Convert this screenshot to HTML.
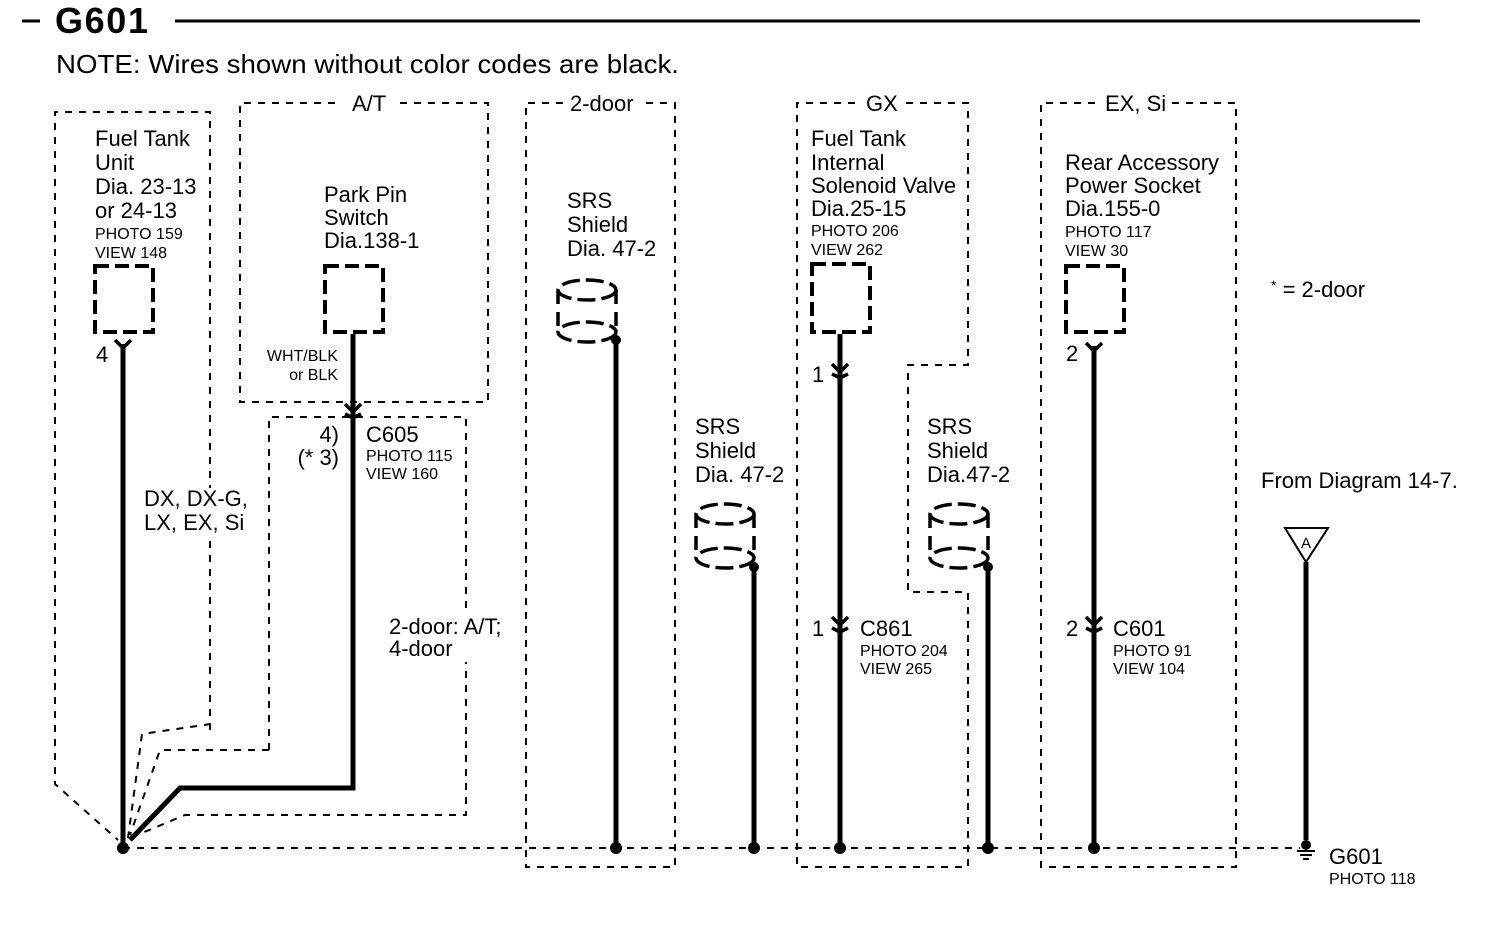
<!DOCTYPE html>
<html><head><meta charset="utf-8"><style>
html,body{margin:0;padding:0;background:#fff;}
svg{display:block;font-family:"Liberation Sans",sans-serif;}
.b{fill:none;stroke:#000;stroke-width:2;stroke-dasharray:7,7;}
.w{fill:none;stroke:#000;stroke-width:5;}
.c{fill:none;stroke:#000;stroke-width:4;stroke-dasharray:14,6;}
.cy{fill:none;stroke:#000;stroke-width:3.5;stroke-dasharray:18,6;}
.t{font-size:22px;}
.s{font-size:16px;}
</style></head><body>
<svg width="1504" height="950" viewBox="0 0 1504 950" xmlns="http://www.w3.org/2000/svg">
<!-- title -->
<line x1="22" y1="21" x2="40" y2="21" stroke="#000" stroke-width="3"/>
<text x="55" y="33" font-size="36" font-weight="bold" textLength="93">G601</text>
<line x1="175" y1="21" x2="1420" y2="21" stroke="#000" stroke-width="3"/>
<text x="56" y="73" font-size="26" textLength="623" lengthAdjust="spacingAndGlyphs">NOTE: Wires shown without color codes are black.</text>

<!-- boxes -->
<polyline class="b" points="210,730 210,112 55,112 55,784 118,840"/>
<polyline class="b" points="211,724 142,734 128,838"/>
<polyline class="b" points="335,103 240,103 240,402 488,402 488,103 400,103"/>
<text x="352" y="111" class="t">A/T</text>
<polyline class="b" points="269,750 269,417 466,417 466,815 185,815 130,838"/>
<polyline class="b" points="269,750 160,750 130,835"/>
<polyline class="b" points="563,103 526,103 526,867 675,867 675,103 645,103"/>
<text x="570" y="111" class="t">2-door</text>
<polyline class="b" points="855,103 797,103 797,867 968,867 968,592 908,592 908,365 968,365 968,103 905,103"/>
<text x="866" y="111" class="t">GX</text>
<polyline class="b" points="1095,103 1041,103 1041,867 1236,867 1236,103 1170,103"/>
<text x="1105" y="111" class="t">EX, Si</text>

<!-- ground bus -->
<line class="b" x1="123" y1="848" x2="1300" y2="848" stroke-dasharray="12,8"/>

<!-- fuel tank -->
<text class="t"><tspan x="95" y="146">Fuel Tank</tspan><tspan x="95" y="170">Unit</tspan><tspan x="95" y="194">Dia. 23-13</tspan><tspan x="95" y="218">or 24-13</tspan></text>
<text class="s"><tspan x="95" y="239">PHOTO 159</tspan><tspan x="95" y="258">VIEW 148</tspan></text>
<rect class="c" x="95" y="266" width="58" height="66"/>
<line class="w" x1="123" y1="344" x2="123" y2="848"/>
<polyline fill="none" stroke="#000" stroke-width="3.5" points="115,340 123,348 131,340"/>
<text x="96" y="362" class="t">4</text>
<rect x="140" y="488" width="110" height="48" fill="#fff"/>
<text class="t"><tspan x="144" y="506">DX, DX-G,</tspan><tspan x="144" y="530">LX, EX, Si</tspan></text>

<!-- park pin -->
<text class="t"><tspan x="324" y="202">Park Pin</tspan><tspan x="324" y="225">Switch</tspan><tspan x="324" y="248">Dia.138-1</tspan></text>
<rect class="c" x="325" y="266" width="58" height="66"/>
<text class="s" text-anchor="end"><tspan x="338" y="361">WHT/BLK</tspan><tspan x="338" y="380">or BLK</tspan></text>
<polyline class="w" points="353,334 353,788 180,788 130,840"/>
<polyline fill="none" stroke="#000" stroke-width="3.5" points="345,404 353,412 361,404"/>
<polyline fill="none" stroke="#000" stroke-width="3.5" points="345,414 353,418 361,414"/>
<text class="t" text-anchor="end"><tspan x="339" y="442">4)</tspan><tspan x="339" y="465">(* 3)</tspan></text>
<text x="366" y="442" class="t">C605</text>
<text class="s"><tspan x="366" y="461">PHOTO 115</tspan><tspan x="366" y="479">VIEW 160</tspan></text>
<rect x="386" y="612" width="120" height="50" fill="#fff"/>
<text class="t"><tspan x="389" y="634">2-door: A/T;</tspan><tspan x="389" y="656">4-door</tspan></text>

<!-- SRS 1 -->
<text class="t"><tspan x="567" y="208">SRS</tspan><tspan x="567" y="232">Shield</tspan><tspan x="567" y="256">Dia. 47-2</tspan></text>
<ellipse class="cy" cx="587" cy="290" rx="29" ry="10"/>
<ellipse class="cy" cx="587" cy="332" rx="29" ry="10"/>
<line x1="558" y1="290" x2="558" y2="332" stroke="#000" stroke-width="3.5" stroke-dasharray="14,8"/>
<line x1="616" y1="290" x2="616" y2="332" stroke="#000" stroke-width="3.5" stroke-dasharray="14,8"/>
<line class="w" x1="616" y1="340" x2="616" y2="848"/>
<circle cx="616" cy="340" r="5"/>

<!-- SRS 2 -->
<text class="t"><tspan x="695" y="434">SRS</tspan><tspan x="695" y="458">Shield</tspan><tspan x="695" y="482">Dia. 47-2</tspan></text>
<ellipse class="cy" cx="725" cy="514" rx="29" ry="10"/>
<ellipse class="cy" cx="725" cy="558" rx="29" ry="10"/>
<line x1="696" y1="514" x2="696" y2="558" stroke="#000" stroke-width="3.5" stroke-dasharray="14,8"/>
<line x1="754" y1="514" x2="754" y2="558" stroke="#000" stroke-width="3.5" stroke-dasharray="14,8"/>
<line class="w" x1="754" y1="567" x2="754" y2="848"/>
<circle cx="754" cy="567" r="5"/>

<!-- GX -->
<text class="t"><tspan x="811" y="146">Fuel Tank</tspan><tspan x="811" y="170">Internal</tspan><tspan x="811" y="193">Solenoid Valve</tspan><tspan x="811" y="216">Dia.25-15</tspan></text>
<text class="s"><tspan x="811" y="236">PHOTO 206</tspan><tspan x="811" y="255">VIEW 262</tspan></text>
<rect class="c" x="812" y="264" width="58" height="68"/>
<line class="w" x1="840" y1="334" x2="840" y2="848"/>
<polyline fill="none" stroke="#000" stroke-width="3.5" points="832,364 840,372 848,364"/>
<polyline fill="none" stroke="#000" stroke-width="3.5" points="832,374 840,378 848,374"/>
<text x="812" y="382" class="t">1</text>
<polyline fill="none" stroke="#000" stroke-width="3.5" points="832,617 840,625 848,617"/>
<polyline fill="none" stroke="#000" stroke-width="3.5" points="832,628 840,632 848,628"/>
<text x="812" y="636" class="t">1</text>
<text x="860" y="636" class="t">C861</text>
<text class="s"><tspan x="860" y="656">PHOTO 204</tspan><tspan x="860" y="674">VIEW 265</tspan></text>

<!-- SRS 3 -->
<text class="t"><tspan x="927" y="434">SRS</tspan><tspan x="927" y="458">Shield</tspan><tspan x="927" y="482">Dia.47-2</tspan></text>
<ellipse class="cy" cx="959" cy="514" rx="29" ry="10"/>
<ellipse class="cy" cx="959" cy="558" rx="29" ry="10"/>
<line x1="930" y1="514" x2="930" y2="558" stroke="#000" stroke-width="3.5" stroke-dasharray="14,8"/>
<line x1="988" y1="514" x2="988" y2="558" stroke="#000" stroke-width="3.5" stroke-dasharray="14,8"/>
<line class="w" x1="988" y1="567" x2="988" y2="848"/>
<circle cx="988" cy="567" r="5"/>

<!-- EX Si -->
<text class="t"><tspan x="1065" y="170">Rear Accessory</tspan><tspan x="1065" y="193">Power Socket</tspan><tspan x="1065" y="216">Dia.155-0</tspan></text>
<text class="s"><tspan x="1065" y="237">PHOTO 117</tspan><tspan x="1065" y="256">VIEW 30</tspan></text>
<rect class="c" x="1066" y="266" width="58" height="66"/>
<line class="w" x1="1094" y1="346" x2="1094" y2="848"/>
<polyline fill="none" stroke="#000" stroke-width="3.5" points="1086,343 1094,351 1102,343"/>
<text x="1066" y="361" class="t">2</text>
<polyline fill="none" stroke="#000" stroke-width="3.5" points="1086,617 1094,625 1102,617"/>
<polyline fill="none" stroke="#000" stroke-width="3.5" points="1086,628 1094,632 1102,628"/>
<text x="1066" y="636" class="t">2</text>
<text x="1113" y="636" class="t">C601</text>
<text class="s"><tspan x="1113" y="656">PHOTO 91</tspan><tspan x="1113" y="674">VIEW 104</tspan></text>

<!-- right -->
<text x="1271" y="297" class="t"><tspan font-size="14" dy="-7">*</tspan><tspan dy="7"> = 2-door</tspan></text>
<text x="1261" y="488" class="t">From Diagram 14-7.</text>
<polygon points="1285,528 1328,528 1306,562" fill="#fff" stroke="#000" stroke-width="2"/>
<text x="1306" y="548" font-size="15" text-anchor="middle">A</text>
<line class="w" x1="1306" y1="562" x2="1306" y2="840"/>
<circle cx="1306" cy="845" r="5"/>
<line x1="1297" y1="851" x2="1315" y2="851" stroke="#000" stroke-width="2"/>
<line x1="1300" y1="855" x2="1312" y2="855" stroke="#000" stroke-width="2"/>
<line x1="1303" y1="859" x2="1309" y2="859" stroke="#000" stroke-width="2"/>
<text x="1329" y="864" class="t">G601</text>
<text x="1329" y="884" class="s">PHOTO 118</text>

<!-- junction dots -->
<circle cx="123" cy="848" r="6"/>
<circle cx="616" cy="848" r="6"/>
<circle cx="754" cy="848" r="6"/>
<circle cx="840" cy="848" r="6"/>
<circle cx="988" cy="848" r="6"/>
<circle cx="1094" cy="848" r="6"/>
</svg>
</body></html>
